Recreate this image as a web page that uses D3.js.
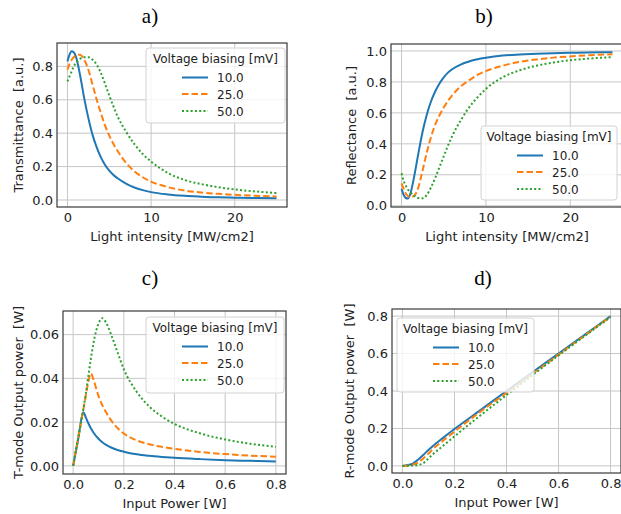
<!DOCTYPE html>
<html>
<head>
<meta charset="utf-8">
<script src="https://cdn.jsdelivr.net/npm/d3@7"></script>
<style>
  body { margin: 0; background: #fff; }
  text { font-family: "DejaVu Sans", sans-serif; }
</style>
</head>
<body>
<svg id="fig" width="621" height="514"></svg>
<script>
// ---- data ----
const voltageLabels = ["10.0", "25.0", "50.0"]

// a) + b) share the light intensity axis [MW/cm2]
const intensity = [0, 0.25, 0.5, 0.75, 1, 1.5, 2, 2.5, 3, 3.5, 4, 4.5, 5, 5.5, 6, 7, 8, 9, 10, 12, 14, 16, 18, 20, 22, 25]
const trans10 = [0.83, 0.87, 0.89, 0.885, 0.86, 0.75, 0.61, 0.49, 0.39, 0.315, 0.255, 0.21, 0.176, 0.15, 0.13, 0.098, 0.075, 0.059, 0.047, 0.033, 0.025, 0.02, 0.016, 0.014, 0.012, 0.01]
const trans25 = [0.78, 0.815, 0.84, 0.855, 0.865, 0.87, 0.84, 0.78, 0.69, 0.6, 0.52, 0.445, 0.385, 0.335, 0.293, 0.223, 0.172, 0.136, 0.11, 0.077, 0.057, 0.045, 0.037, 0.031, 0.026, 0.021]
const trans50 = [0.71, 0.74, 0.77, 0.8, 0.82, 0.845, 0.855, 0.855, 0.84, 0.81, 0.76, 0.695, 0.625, 0.56, 0.5, 0.41, 0.335, 0.275, 0.23, 0.162, 0.12, 0.095, 0.077, 0.063, 0.053, 0.042]
const refl10 = [0.11, 0.07, 0.05, 0.047, 0.07, 0.19, 0.34, 0.48, 0.59, 0.675, 0.74, 0.79, 0.83, 0.86, 0.882, 0.912, 0.932, 0.946, 0.956, 0.97, 0.977, 0.982, 0.986, 0.988, 0.99, 0.992]
const refl25 = [0.145, 0.11, 0.08, 0.063, 0.055, 0.065, 0.12, 0.23, 0.345, 0.445, 0.525, 0.585, 0.635, 0.677, 0.713, 0.77, 0.81, 0.845, 0.87, 0.905, 0.93, 0.945, 0.957, 0.965, 0.972, 0.978]
const refl50 = [0.21, 0.16, 0.13, 0.105, 0.09, 0.065, 0.05, 0.048, 0.07, 0.12, 0.18, 0.25, 0.32, 0.388, 0.45, 0.55, 0.635, 0.7, 0.755, 0.83, 0.875, 0.905, 0.925, 0.94, 0.95, 0.96]

// c) T-mode output vs input power [W]
const inputPowerT = [0, 0.02, 0.04, 0.05, 0.06, 0.07, 0.08, 0.1, 0.115, 0.13, 0.15, 0.175, 0.2, 0.25, 0.3, 0.35, 0.4, 0.5, 0.6, 0.7, 0.8]
const outT10 = [0, 0.0123, 0.0245, 0.0222, 0.0195, 0.0172, 0.0153, 0.0124, 0.0108, 0.0096, 0.0084, 0.0073, 0.0065, 0.0053, 0.0046, 0.0041, 0.0037, 0.0031, 0.0026, 0.0023, 0.002]
const outT25 = [0, 0.0128, 0.0256, 0.032, 0.0385, 0.0423, 0.0395, 0.032, 0.0278, 0.0245, 0.0208, 0.0173, 0.0148, 0.0117, 0.0099, 0.0087, 0.0078, 0.0064, 0.0054, 0.0047, 0.0042]
const outT50 = [0, 0.0128, 0.0258, 0.033, 0.041, 0.049, 0.056, 0.065, 0.0675, 0.0655, 0.06, 0.052, 0.0442, 0.034, 0.0272, 0.0226, 0.0192, 0.0149, 0.0121, 0.0101, 0.0087]

// d) R-mode output vs input power [W]
const inputPowerR = [0, 0.02, 0.04, 0.06, 0.08, 0.1, 0.125, 0.15, 0.2, 0.3, 0.4, 0.5, 0.6, 0.7, 0.8]
const outR10 = [0, 0.005, 0.012, 0.033, 0.058, 0.085, 0.115, 0.143, 0.197, 0.298, 0.4, 0.5, 0.6, 0.7, 0.8]
const outR25 = [0, 0.002, 0.007, 0.017, 0.04, 0.065, 0.1, 0.128, 0.183, 0.29, 0.39, 0.492, 0.594, 0.696, 0.798]
const outR50 = [0, 0.001, 0.002, 0.005, 0.014, 0.04, 0.072, 0.1, 0.158, 0.27, 0.378, 0.485, 0.59, 0.693, 0.795]

// tick values
const intensityTicks = [0, 10, 20]
const powerTicks = [0, 0.2, 0.4, 0.6, 0.8]
const transTicks = [0, 0.2, 0.4, 0.6, 0.8]
const reflTicks = [0, 0.2, 0.4, 0.6, 0.8, 1.0]
const outTTicks = [0, 0.02, 0.04, 0.06]
const outRTicks = [0, 0.2, 0.4, 0.6, 0.8]

// ---- styles ----
const colors = ["#1f77b4", "#ff7f0e", "#2ca02c"]
const dashes = [null, "6.5,3", "2,2.3"]

const svg = d3.select("#fig")
svg.append("rect").attr("width", 621).attr("height", 514).attr("fill", "#fff")

const panels = [
  { id: "a", title: "a)", titleX: 150, titleY: 23,
    box: { left: 57, right: 287, top: 43, bottom: 207 },
    xDomain: [-1.25, 26.25], yDomain: [-0.042, 0.94],
    xs: intensity, ys: [trans10, trans25, trans50],
    xTicks: intensityTicks, yTicks: transTicks, xFmt: d3.format("d"), yFmt: d3.format(".1f"),
    xLabel: "Light intensity [MW/cm2]", yLabel: "Transmittance  [a.u.]", yLabelOff: 34.5,
    legend: { left: 146, top: 48, width: 139, height: 75 } },
  { id: "b", title: "b)", titleX: 484, titleY: 23,
    box: { left: 391, right: 623, top: 44, bottom: 207 },
    xDomain: [-1.25, 26.25], yDomain: [-0.008, 1.045],
    xs: intensity, ys: [refl10, refl25, refl50],
    xTicks: intensityTicks, yTicks: reflTicks, xFmt: d3.format("d"), yFmt: d3.format(".1f"),
    xLabel: "Light intensity [MW/cm2]", yLabel: "Reflectance  [a.u.]", yLabelOff: 35,
    legend: { left: 481, top: 126, width: 136, height: 74 } },
  { id: "c", title: "c)", titleX: 150, titleY: 285,
    box: { left: 63, right: 286, top: 311, bottom: 474 },
    xDomain: [-0.04, 0.84], yDomain: [-0.0037, 0.0708],
    xs: inputPowerT, ys: [outT10, outT25, outT50],
    xTicks: powerTicks, yTicks: outTTicks, xFmt: d3.format(".1f"), yFmt: d3.format(".2f"),
    xLabel: "Input Power [W]", yLabel: "T-mode Output power  [W]", yLabelOff: 40.5,
    legend: { left: 146, top: 317, width: 138, height: 76 } },
  { id: "d", title: "d)", titleX: 483, titleY: 285,
    box: { left: 392, right: 621, top: 309, bottom: 473 },
    xDomain: [-0.04, 0.84], yDomain: [-0.038, 0.838],
    xs: inputPowerR, ys: [outR10, outR25, outR50],
    xTicks: powerTicks, yTicks: outRTicks, xFmt: d3.format(".1f"), yFmt: d3.format(".1f"),
    xLabel: "Input Power [W]", yLabel: "R-mode Output power  [W]", yLabelOff: 38,
    legend: { left: 397, top: 318, width: 137, height: 74 } }
]

function drawPanel(p) {
  const b = p.box
  const x = d3.scaleLinear().domain(p.xDomain).range([b.left, b.right])
  const y = d3.scaleLinear().domain(p.yDomain).range([b.bottom, b.top])
  const g = svg.append("g").attr("id", "panel-" + p.id)

  g.append("clipPath").attr("id", "clip-" + p.id)
    .append("rect")
    .attr("x", b.left).attr("y", b.top)
    .attr("width", b.right - b.left).attr("height", b.bottom - b.top)

  // grid
  g.append("g").selectAll("line")
    .data(p.xTicks)
    .join("line")
    .attr("x1", d => x(d)).attr("x2", d => x(d))
    .attr("y1", b.top).attr("y2", b.bottom)
    .attr("stroke", "#c6c6c6").attr("stroke-width", 1)
  g.append("g").selectAll("line")
    .data(p.yTicks)
    .join("line")
    .attr("x1", b.left).attr("x2", b.right)
    .attr("y1", d => y(d)).attr("y2", d => y(d))
    .attr("stroke", "#c6c6c6").attr("stroke-width", 1)

  // axes (labels only, no tick marks)
  const xAxis = g.append("g")
    .attr("transform", `translate(0,${b.bottom})`)
    .call(d3.axisBottom(x).tickValues(p.xTicks).tickFormat(p.xFmt).tickSize(0).tickPadding(6))
  const yAxis = g.append("g")
    .attr("transform", `translate(${b.left},0)`)
    .call(d3.axisLeft(y).tickValues(p.yTicks).tickFormat(p.yFmt).tickSize(0).tickPadding(4))
  ;[xAxis, yAxis].forEach(a => {
    a.select(".domain").remove()
    a.attr("font-size", 13).attr("font-family", "DejaVu Sans, sans-serif").attr("color", "#222")
  })

  // curves
  const line = d3.line().curve(d3.curveMonotoneX)
  const plot = g.append("g").attr("clip-path", `url(#clip-${p.id})`)
  p.ys.forEach((ys, i) => {
    plot.append("path")
      .datum(p.xs.map((v, j) => [x(v), y(ys[j])]))
      .attr("d", line)
      .attr("fill", "none")
      .attr("stroke", colors[i])
      .attr("stroke-width", 2)
      .attr("stroke-dasharray", dashes[i])
  })

  // frame
  g.append("rect")
    .attr("x", b.left).attr("y", b.top)
    .attr("width", b.right - b.left).attr("height", b.bottom - b.top)
    .attr("fill", "none").attr("stroke", "#3a3a3a").attr("stroke-width", 1.2)

  // axis labels
  g.append("text")
    .attr("x", (b.left + b.right) / 2).attr("y", b.bottom + 33.5)
    .attr("text-anchor", "middle").attr("font-size", 13).attr("fill", "#222")
    .text(p.xLabel)
  g.append("text")
    .attr("transform", `translate(${b.left - p.yLabelOff},${(b.top + b.bottom) / 2}) rotate(-90)`)
    .attr("text-anchor", "middle").attr("font-size", 13).attr("fill", "#222")
    .style("white-space", "pre")
    .text(p.yLabel)

  // panel title
  svg.append("text")
    .attr("x", p.titleX).attr("y", p.titleY)
    .attr("text-anchor", "middle")
    .style("font-family", "'Liberation Serif', serif")
    .attr("font-size", 21).attr("fill", "#000")
    .text(p.title)

  // legend
  const L = p.legend
  const lg = svg.append("g").attr("transform", `translate(${L.left},${L.top})`)
  lg.append("rect")
    .attr("width", L.width).attr("height", L.height).attr("rx", 3)
    .attr("fill", "#fff").attr("fill-opacity", 0.8)
    .attr("stroke", "#d2d2d2").attr("stroke-width", 1)
  lg.append("text")
    .attr("x", L.width / 2).attr("y", 15)
    .attr("text-anchor", "middle").attr("font-size", 12).attr("fill", "#222")
    .text("Voltage biasing [mV]")
  const rowY = [29.5, 46, 63]
  voltageLabels.forEach((lab, i) => {
    lg.append("line")
      .attr("x1", 36).attr("x2", 62).attr("y1", rowY[i]).attr("y2", rowY[i])
      .attr("stroke", colors[i]).attr("stroke-width", 2)
      .attr("stroke-dasharray", dashes[i])
    lg.append("text")
      .attr("x", 71).attr("y", rowY[i] + 4.5)
      .attr("font-size", 12).attr("fill", "#222")
      .text(lab)
  })
}

panels.forEach(drawPanel)
</script>
</body>
</html>
